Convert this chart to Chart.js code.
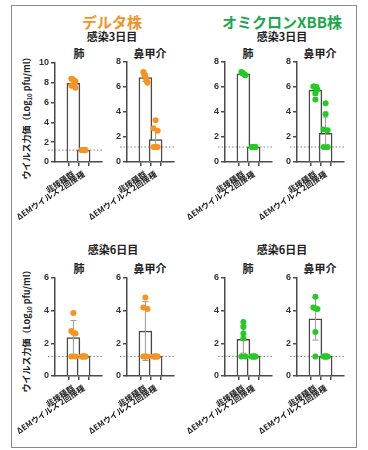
<!DOCTYPE html>
<html>
<head>
<meta charset="utf-8">
<script src="https://cdn.jsdelivr.net/npm/chart.js@4.4.0/dist/chart.umd.min.js"></script>
<style>
  body { margin: 0; background: #fff; width: 368px; height: 450px; position: relative; overflow: hidden;
         font-family: "Noto Sans CJK JP", "Liberation Sans", sans-serif; }
  .frame { position: absolute; left: 11px; top: 5px; width: 344px; height: 441px; border: 1.5px solid #8a8a8a; }
  .t { position: absolute; transform: translate(-50%, -50%); white-space: nowrap; font-weight: bold; color: #222; }
  .big { font-size: 15px; }
  .day { font-size: 11px; }
  .organ { font-size: 11px; }
  .ytitle { font-size: 9px; transform: translate(-50%, -50%) rotate(-90deg); }
  .ytitle sub { font-size: 6px; }
  canvas { position: absolute; }
</style>
</head>
<body>
<div class="frame"></div>

<div class="t big" style="left:112px;top:21px;color:#f39128">デルタ株</div>
<div class="t big" style="left:282px;top:21px;color:#1aa84a">オミクロンXBB株</div>
<div class="t day" style="left:112px;top:36px">感染3日目</div>
<div class="t day" style="left:282px;top:36px">感染3日目</div>
<div class="t day" style="left:113px;top:249px">感染6日目</div>
<div class="t day" style="left:282px;top:249px">感染6日目</div>

<div class="t organ" style="left:79px;top:53px">肺</div>
<div class="t organ" style="left:150px;top:53px">鼻甲介</div>
<div class="t organ" style="left:248px;top:53px">肺</div>
<div class="t organ" style="left:320px;top:53px">鼻甲介</div>
<div class="t organ" style="left:79px;top:268px">肺</div>
<div class="t organ" style="left:150px;top:268px">鼻甲介</div>
<div class="t organ" style="left:248px;top:268px">肺</div>
<div class="t organ" style="left:320px;top:268px">鼻甲介</div>

<div class="t ytitle" style="left:27px;top:116px">ウイルス力価（Log<sub>10</sub> pfu/ml）</div>
<div class="t ytitle" style="left:27px;top:329px">ウイルス力価（Log<sub>10</sub> pfu/ml）</div>

<canvas id="c1"></canvas>
<canvas id="c2"></canvas>
<canvas id="c3"></canvas>
<canvas id="c4"></canvas>
<canvas id="c5"></canvas>
<canvas id="c6"></canvas>
<canvas id="c7"></canvas>
<canvas id="c8"></canvas>

<script>
const groups = ['非接種群', 'ΔEMウイルス 2回接種'];
const lod = 1.2;

// デルタ株 感染3日目
const d3LungMean = [7.95, 1.2];
const d3LungSD = [0.35, 0];
const d3LungPts = [[8.4, 8.35, 8.2, 8.15, 7.7, 7.5], [1.2, 1.2, 1.2, 1.2, 1.2, 1.2]];
const d3NasalMean = [6.75, 1.8];
const d3NasalSD = [0.3, 0.8];
const d3NasalPts = [[7.2, 7.05, 6.9, 6.7, 6.5, 6.35], [3.35, 2.7, 2.5, 1.2, 1.2, 1.2]];

// オミクロンXBB株 感染3日目
const o3LungMean = [7.05, 1.2];
const o3LungSD = [0.1, 0];
const o3LungPts = [[7.2, 7.15, 7.1, 7.05, 7.0, 6.95], [1.2, 1.2, 1.2, 1.2, 1.2, 1.2]];
const o3NasalMean = [5.75, 2.3];
const o3NasalSD = [0.4, 1.3];
const o3NasalPts = [[6.05, 6.05, 6.0, 6.0, 5.8, 5.5, 5.0], [4.7, 3.85, 2.6, 2.55, 1.2, 1.2]];

// デルタ株 感染6日目
const d6LungMean = [2.35, 1.2];
const d6LungSD = [1.05, 0];
const d6LungPts = [[3.85, 2.75, 2.65, 2.6, 1.2, 1.2], [1.2, 1.2, 1.2, 1.2, 1.2, 1.2]];
const d6NasalMean = [2.75, 1.2];
const d6NasalSD = [1.8, 0];
const d6NasalPts = [[4.8, 4.2, 4.1, 1.2, 1.2, 1.2], [1.2, 1.2, 1.2, 1.2, 1.2, 1.2]];

// オミクロンXBB株 感染6日目
const o6LungMean = [2.25, 1.2];
const o6LungSD = [0.85, 0];
const o6LungPts = [[3.3, 3.0, 2.6, 2.3, 1.2, 1.2], [1.2, 1.2, 1.2, 1.2, 1.2, 1.2]];
const o6NasalMean = [3.5, 1.2];
const o6NasalSD = [1.3, 0];
const o6NasalPts = [[4.85, 4.2, 4.15, 4.1, 2.7, 1.2], [1.2, 1.2, 1.2, 1.2, 1.2, 1.2]];

const orange = '#f7931e';
const green = '#22cc22';
const axisColor = '#4a4a4a';

// chart area placement of each panel (page pixels)
const panels = [
  { id: 'c1', L: 55, T: 63, B: 162, max: 10, color: orange, mean: d3LungMean, sd: d3LungSD, pts: d3LungPts },
  { id: 'c2', L: 127, T: 62, B: 162, max: 8, color: orange, mean: d3NasalMean, sd: d3NasalSD, pts: d3NasalPts },
  { id: 'c3', L: 225, T: 62, B: 162, max: 8, color: green, mean: o3LungMean, sd: o3LungSD, pts: o3LungPts },
  { id: 'c4', L: 297, T: 62, B: 162, max: 8, color: green, mean: o3NasalMean, sd: o3NasalSD, pts: o3NasalPts },
  { id: 'c5', L: 55, T: 278, B: 376, max: 6, color: orange, mean: d6LungMean, sd: d6LungSD, pts: d6LungPts },
  { id: 'c6', L: 127, T: 278, B: 376, max: 6, color: orange, mean: d6NasalMean, sd: d6NasalSD, pts: d6NasalPts },
  { id: 'c7', L: 225, T: 278, B: 376, max: 6, color: green, mean: o6LungMean, sd: o6LungSD, pts: o6LungPts },
  { id: 'c8', L: 297, T: 278, B: 376, max: 6, color: green, mean: o6NasalMean, sd: o6NasalSD, pts: o6NasalPts }
];

const AREA_W = 47, PAD_L = 90, PAD_R = 8, PAD_T = 14, X_H = 66, PAD_B = 10, Y_W = 20;

// beeswarm-like spread of points that sit at nearly the same value
function spread(vals, gi) {
  const sorted = vals.slice().sort((a, b) => b - a);
  const clusters = [];
  sorted.forEach(v => {
    const last = clusters[clusters.length - 1];
    if (last && Math.abs(last[last.length - 1] - v) < 0.25) last.push(v);
    else clusters.push([v]);
  });
  const out = [];
  clusters.forEach(c => {
    const n = c.length;
    const step = n > 1 ? Math.min(0.4, 0.4 / (n - 1)) : 0;
    c.forEach((v, j) => out.push({ x: gi + (j - (n - 1) / 2) * step, y: v }));
  });
  return out;
}

const marks = {
  id: 'marks',
  afterDatasetDraw(chart, args) {
    if (args.index !== 0) return;
    const ds = chart.data.datasets[0];
    const { ctx, chartArea, scales: { y } } = chart;
    ctx.save();
    const yl = y.getPixelForValue(lod);
    ctx.strokeStyle = '#808080';
    ctx.lineWidth = 1;
    ctx.setLineDash([1.5, 2]);
    ctx.beginPath();
    ctx.moveTo(chartArea.left - 7, yl);
    ctx.lineTo(chartArea.right + 1, yl);
    ctx.stroke();
    ctx.setLineDash([]);
    ctx.strokeStyle = '#9a9a9a';
    args.meta.data.forEach((bar, i) => {
      const s = ds.sd[i];
      if (!s) return;
      const m = ds.data[i].y;
      const y1 = y.getPixelForValue(m + s), y2 = y.getPixelForValue(m - s);
      ctx.beginPath();
      ctx.moveTo(bar.x, y1); ctx.lineTo(bar.x, y2);
      ctx.moveTo(bar.x - 3, y1); ctx.lineTo(bar.x + 3, y1);
      ctx.moveTo(bar.x - 3, y2); ctx.lineTo(bar.x + 3, y2);
      ctx.stroke();
    });
    ctx.restore();
  }
};

panels.forEach(p => {
  const cv = document.getElementById(p.id);
  cv.width = AREA_W + PAD_L + PAD_R;
  cv.height = (p.B - p.T) + PAD_T + X_H + PAD_B;
  cv.style.left = (p.L - PAD_L) + 'px';
  cv.style.top = (p.T - PAD_T) + 'px';

  new Chart(cv.getContext('2d'), {
    data: {
      datasets: [{
        type: 'bar',
        data: p.mean.map((m, i) => ({ x: i, y: m })),
        sd: p.sd,
        backgroundColor: '#ffffff',
        borderColor: axisColor,
        borderWidth: 1.5,
        barThickness: 13,
        order: 2
      }, {
        type: 'scatter',
        data: spread(p.pts[0], 0).concat(spread(p.pts[1], 1)),
        backgroundColor: p.color,
        borderColor: p.color,
        borderWidth: 0,
        pointRadius: 3,
        order: 1
      }]
    },
    options: {
      responsive: false,
      animation: false,
      layout: { padding: { left: PAD_L - Y_W, right: PAD_R, top: PAD_T, bottom: PAD_B } },
      plugins: { legend: { display: false }, tooltip: { enabled: false } },
      scales: {
        x: {
          type: 'linear',
          min: -0.65,
          max: 1.65,
          afterBuildTicks: s => { s.ticks = [{ value: 0 }, { value: 1 }]; },
          afterFit: s => { s.height = X_H; },
          border: { display: true, color: axisColor, width: 1.5 },
          grid: { drawOnChartArea: false, drawTicks: true, tickLength: 4, color: axisColor, lineWidth: 1.5 },
          ticks: {
            autoSkip: false,
            maxRotation: 34,
            minRotation: 34,
            padding: 3,
            color: '#222',
            font: { family: '"Noto Sans CJK JP", sans-serif', size: 8, weight: 'bold' },
            callback: (v, i) => groups[i]
          }
        },
        y: {
          min: 0,
          max: p.max,
          afterFit: s => { s.width = Y_W; },
          border: { display: true, color: axisColor, width: 1.5 },
          grid: { drawOnChartArea: false, drawTicks: true, tickLength: 4, color: axisColor, lineWidth: 1.5 },
          ticks: {
            stepSize: 2,
            padding: 2,
            color: '#333',
            font: { family: '"Liberation Sans", sans-serif', size: 9, weight: 'bold' }
          }
        }
      }
    },
    plugins: [marks]
  });
});
</script>
</body>
</html>
